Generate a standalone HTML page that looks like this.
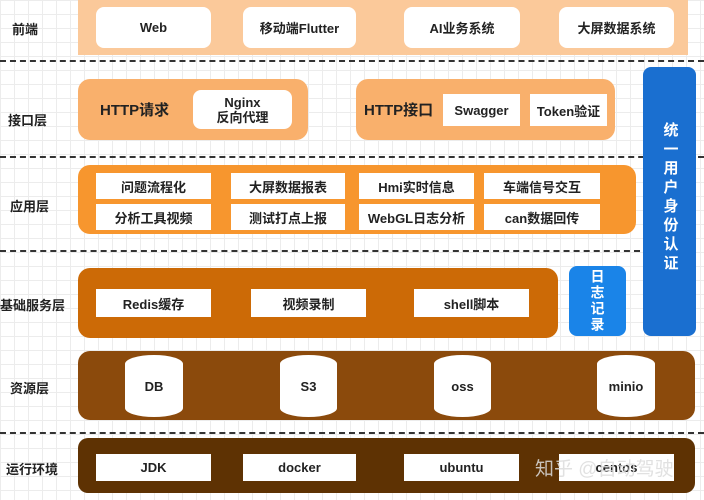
<!DOCTYPE html>
<html><head><meta charset="utf-8"><style>
body{margin:0;width:704px;height:500px;position:relative;overflow:hidden;font-family:"Liberation Sans","Noto Sans CJK SC",sans-serif;font-weight:bold;color:#222;
background-color:#fff;background-image:linear-gradient(#ececec 1px,transparent 1px),linear-gradient(90deg,#ececec 1px,transparent 1px);background-size:14px 14px;}
.a{position:absolute;box-sizing:border-box;display:flex;align-items:center;justify-content:center;text-align:center}
.w{background:#fff;font-size:13px;color:#222}
.r{border-radius:8px}
.lbl{position:absolute;font-size:13px;color:#222}
.d{position:absolute;left:0;width:704px;border-top:2px dashed #333;height:0}
.cyl{position:absolute;background:#fff;border-radius:29px/9px;font-size:13px;display:flex;align-items:center;justify-content:center}
.v{writing-mode:vertical-rl;color:#fff;font-size:15px}
</style></head><body>
<div class="d" style="top:60px"></div>
<div class="d" style="top:156px"></div>
<div class="d" style="top:250px;width:640px"></div>
<div class="d" style="top:432px"></div>

<div class="lbl" style="left:12px;top:19px">前端</div>
<div class="lbl" style="left:8px;top:110px">接口层</div>
<div class="lbl" style="left:10px;top:196px">应用层</div>
<div class="lbl" style="left:0;top:295px">基础服务层</div>
<div class="lbl" style="left:10px;top:378px">资源层</div>
<div class="lbl" style="left:6px;top:459px">运行环境</div>

<div class="a" style="left:78px;top:0;width:610px;height:55px;background:#fbc99a"></div>
<div class="a w r" style="left:96px;top:7px;width:115px;height:41px">Web</div>
<div class="a w r" style="left:243px;top:7px;width:113px;height:41px">移动端Flutter</div>
<div class="a w r" style="left:404px;top:7px;width:116px;height:41px">AI业务系统</div>
<div class="a w r" style="left:559px;top:7px;width:115px;height:41px">大屏数据系统</div>

<div class="a r" style="left:78px;top:79px;width:230px;height:61px;background:#f9b06c;border-radius:12px;justify-content:flex-start;padding-left:22px;font-size:15px">HTTP请求</div>
<div class="a w r" style="left:193px;top:90px;width:99px;height:39px;line-height:15px;font-size:13px">Nginx<br>反向代理</div>
<div class="a r" style="left:356px;top:79px;width:259px;height:61px;background:#f9b06c;border-radius:12px;justify-content:flex-start;padding-left:8px;font-size:15px">HTTP接口</div>
<div class="a w" style="left:443px;top:94px;width:77px;height:32px">Swagger</div>
<div class="a w" style="left:530px;top:94px;width:77px;height:32px">Token验证</div>

<div class="a v" style="left:643px;top:67px;width:53px;height:269px;background:#1a6fd0;border-radius:8px;padding-bottom:8px;line-height:18px;letter-spacing:4px">统一用户身份认证</div>

<div class="a" style="left:78px;top:165px;width:558px;height:69px;background:#f7962e;border-radius:12px"></div>
<div class="a w" style="left:96px;top:173px;width:115px;height:26px">问题流程化</div>
<div class="a w" style="left:96px;top:204px;width:115px;height:26px">分析工具视频</div>
<div class="a w" style="left:231px;top:173px;width:114px;height:26px">大屏数据报表</div>
<div class="a w" style="left:231px;top:204px;width:114px;height:26px">测试打点上报</div>
<div class="a w" style="left:359px;top:173px;width:115px;height:26px">Hmi实时信息</div>
<div class="a w" style="left:359px;top:204px;width:115px;height:26px">WebGL日志分析</div>
<div class="a w" style="left:484px;top:173px;width:116px;height:26px">车端信号交互</div>
<div class="a w" style="left:484px;top:204px;width:116px;height:26px">can数据回传</div>

<div class="a" style="left:78px;top:268px;width:480px;height:70px;background:#cc6a06;border-radius:12px"></div>
<div class="a w" style="left:96px;top:289px;width:115px;height:28px">Redis缓存</div>
<div class="a w" style="left:251px;top:289px;width:115px;height:28px">视频录制</div>
<div class="a w" style="left:414px;top:289px;width:115px;height:28px">shell脚本</div>
<div class="a v" style="left:569px;top:266px;width:57px;height:70px;background:#1a84e8;border-radius:8px;font-size:14px;line-height:14px;letter-spacing:2px">日志记录</div>

<div class="a" style="left:78px;top:351px;width:617px;height:69px;background:#8b4a0c;border-radius:12px"></div>
<div class="cyl" style="left:125px;top:355px;width:58px;height:62px">DB</div>
<div class="cyl" style="left:280px;top:355px;width:57px;height:62px">S3</div>
<div class="cyl" style="left:434px;top:355px;width:57px;height:62px">oss</div>
<div class="cyl" style="left:597px;top:355px;width:58px;height:62px">minio</div>

<div class="a" style="left:78px;top:438px;width:617px;height:55px;background:#5e3203;border-radius:10px"></div>
<div class="a w" style="left:96px;top:454px;width:115px;height:27px">JDK</div>
<div class="a w" style="left:243px;top:454px;width:113px;height:27px">docker</div>
<div class="a w" style="left:404px;top:454px;width:115px;height:27px">ubuntu</div>
<div class="a w" style="left:559px;top:454px;width:115px;height:27px">centos</div>
<div style="position:absolute;left:535px;top:454px;font-size:19px;font-weight:normal;color:rgba(220,220,220,0.85)">知乎 @自动驾驶</div>
</body></html>
